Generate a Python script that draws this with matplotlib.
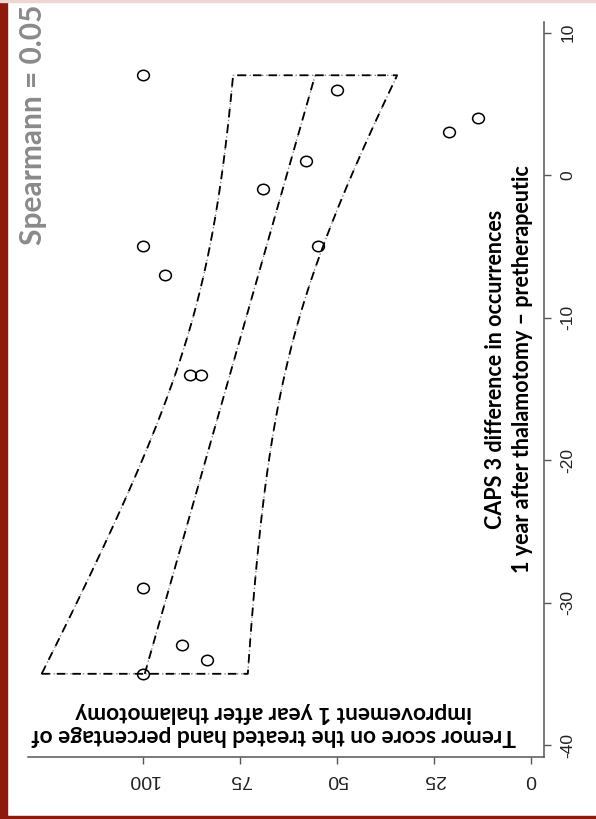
import numpy as np
import matplotlib
matplotlib.use("Agg")
import matplotlib.pyplot as plt
from matplotlib.path import Path
from matplotlib.patches import Rectangle

plt.rcParams['font.family'] = ['Liberation Sans', 'DejaVu Sans']
plt.rcParams['lines.scale_dashes'] = False

caps = np.array([7, 6, 4, 3, 1, -1, -5, -5, -7, -14, -14, -29, -33, -34, -35], dtype=float)
tremor = np.array([100, 50, 13.6, 21.1, 58.1, 69, 100, 54.8, 94.3, 87.8, 84.9,
                   100, 89.9, 83.6, 100], dtype=float)

tremor_ticks = [0, 25, 50, 75, 100]
caps_ticks = [-40, -30, -20, -10, 0, 10]
spearman_text = "Spearmann = 0.05"
caps_label = "CAPS 3 difference in occurrences\n1 year after thalamotomy \u2013 pretherapeutic"
tremor_label = "Tremor score on the treated hand percentage of\nimprovement 1 year after thalamotomy"
T_975_DF13 = 2.160  # t quantile for the 95% band, n - 2 = 13 df

W, H = 596, 819
fig = plt.figure(figsize=(W / 100, H / 100), dpi=100)


def fx(px):
    return px / W


def fy(py):
    return 1 - py / H


# red frame of the slide
fig.patches.append(Rectangle((0, 0), fx(7), 1, transform=fig.transFigure,
                             color='#8e1a0c', zorder=0))
fig.patches.append(Rectangle((0, 0), 1, 3 / H, transform=fig.transFigure,
                             color='#8e1a0c', zorder=0))
fig.patches.append(Rectangle((0, 1 - 2 / H), 1, 2 / H, transform=fig.transFigure,
                             color='#efd6d3', zorder=0))

ax = fig.add_axes([fx(28), fy(757.3), fx(543.7 - 28), (757.3 - 21.7) / H])
ax.set_xlim(129.6, -3.27)
ax.set_ylim(-40.86, 10.76)

# linear fit of tremor on CAPS with 95% confidence band for the mean
b, a = np.polyfit(caps, tremor, 1)
n = len(caps)
resid = tremor - (a + b * caps)
s = np.sqrt(np.sum(resid ** 2) / (n - 2))
sxx = np.sum((caps - caps.mean()) ** 2)
grid = np.linspace(caps.min(), caps.max(), 200)
fit = a + b * grid
half = T_975_DF13 * s * np.sqrt(1 / n + (grid - caps.mean()) ** 2 / sxx)
upper, lower = fit + half, fit - half

band_x = np.concatenate([upper, [lower[-1]], lower[::-1], [upper[0]]])
band_y = np.concatenate([grid, [grid[-1]], grid[::-1], [grid[0]]])

for xs, ys in [(band_x, band_y), (fit, grid)]:
    ax.plot(xs, ys, color='#7a7a7a', lw=0.9, linestyle=(0, (1, 2.0)), zorder=2)
    ax.plot(xs, ys, color='black', lw=1.3, linestyle=(0, (6.2, 5.0)), zorder=3)

# slightly wide open circles, as in the stretched reference
circ = Path.unit_circle()
ell = Path(circ.vertices * [1.13, 1.0], circ.codes)
ax.plot(tremor, caps, linestyle='none', marker=ell, ms=8.5, mfc='none',
        mec='black', mew=1.1, zorder=4)

for side in ['top', 'left']:
    ax.spines[side].set_visible(False)
for side in ['bottom', 'right']:
    ax.spines[side].set_color('#555555')
    ax.spines[side].set_linewidth(1.1)

ax.set_xticks(tremor_ticks)
ax.set_xticklabels([str(t) for t in tremor_ticks])
ax.set_yticks(caps_ticks)
ax.set_yticklabels([str(t) for t in caps_ticks])
ax.yaxis.tick_right()
ax.tick_params(axis='x', length=5, width=1, color='#555555', pad=5,
               labelsize=14, labelrotation=180, labelcolor='#222222')
ax.tick_params(axis='y', length=5, width=1, color='#555555', pad=7,
               labelsize=12.5, labelrotation=90, labelcolor='#222222')
for lab in ax.get_yticklabels():
    lab.set_verticalalignment('center')

fig.text(fx(509), fy(369), caps_label, rotation=90, ha='center', va='center',
         multialignment='center', fontsize=15.5, fontweight='bold',
         family=['Lato', 'DejaVu Sans'], linespacing=1.3)
fig.text(fx(274), fy(724), tremor_label, rotation=180, ha='center', va='center',
         multialignment='center', fontsize=16.4, fontweight='bold',
         family=['Lato', 'DejaVu Sans'], linespacing=1.1)
fig.text(fx(33), fy(125), spearman_text, rotation=90, ha='center', va='center',
         fontsize=21.5, fontweight='bold', color='#8a8a8a',
         family=['Lato', 'DejaVu Sans'])

fig.savefig('out.png', dpi=100)
